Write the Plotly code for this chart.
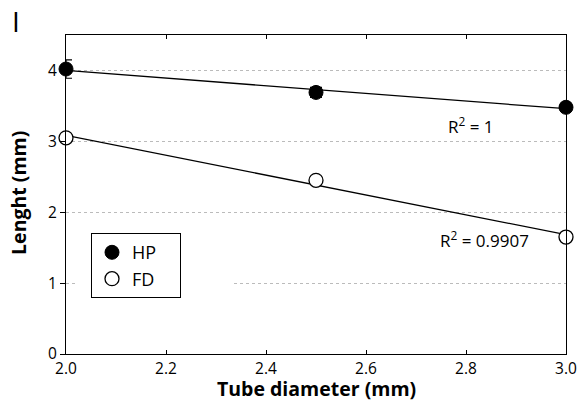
import numpy as np
import plotly.graph_objects as go

# Data
diameter = [2.0, 2.5, 3.0]
hp_length = [4.02, 3.69, 3.48]
hp_err = [0.13, 0.07, 0.05]
fd_length = [3.05, 2.45, 1.65]
fd_err = [0.04, 0.03, 0.03]
series_names = ["HP", "FD"]
r2_labels = ["R<sup>2</sup> = 1", "R<sup>2</sup> = 0.9907"]
panel_label = "I"
x_ticks = [2.0, 2.2, 2.4, 2.6, 2.8, 3.0]
x_tick_text = ["2.0", "2.2", "2.4", "2.6", "2.8", "3.0"]
y_ticks = [0, 1, 2, 3, 4]

FONT = "Open Sans"
PAD = "\u00a0" * 4  # right padding inside legend box

fig = go.Figure()

x_line = np.array([min(diameter), max(diameter)])
for yv in (hp_length, fd_length):
    m, b = np.polyfit(diameter, yv, 1)
    fig.add_trace(go.Scatter(x=x_line, y=m * x_line + b, mode="lines",
                             line=dict(color="black", width=1.3),
                             showlegend=False, hoverinfo="skip"))

fig.add_trace(go.Scatter(
    x=diameter, y=hp_length, mode="markers", name=series_names[0] + PAD,
    marker=dict(symbol="circle", size=14, color="black",
                line=dict(color="black", width=1)),
    error_y=dict(type="data", array=hp_err, color="black", thickness=1.2, width=6),
    cliponaxis=False))
fig.add_trace(go.Scatter(
    x=diameter, y=fd_length, mode="markers", name=series_names[1] + PAD,
    marker=dict(symbol="circle", size=14, color="white",
                line=dict(color="black", width=1.3)),
    error_y=dict(type="data", array=fd_err, color="black", thickness=1.2, width=6),
    cliponaxis=False))

# R^2 annotations
fig.add_annotation(x=2.81, y=3.22, text=r2_labels[0], showarrow=False,
                   font=dict(family=FONT, size=17, color="black"))
fig.add_annotation(x=2.836, y=1.61, text=r2_labels[1], showarrow=False,
                   font=dict(family=FONT, size=17, color="black"))
# Panel label
fig.add_annotation(x=-0.112, y=1.11, xref="paper", yref="paper", text=panel_label,
                   showarrow=False, xanchor="left", yanchor="top",
                   font=dict(family=FONT, size=28, color="black"))
# axis titles
fig.add_annotation(x=0.5, y=-0.108, xref="paper", yref="paper",
                   text="<b>Tube diameter (mm)</b>", showarrow=False,
                   xanchor="center", yanchor="middle",
                   font=dict(family=FONT, size=19.5, color="black"))
fig.add_annotation(x=-0.094, y=0.505, xref="paper", yref="paper",
                   text="<b>Lenght (mm)</b>", showarrow=False, textangle=-90,
                   xanchor="center", yanchor="middle",
                   font=dict(family=FONT, size=19.5, color="black"))

# mask part of y=1 gridline (as in reference)
fig.add_shape(type="rect", x0=2.02, x1=2.332, y0=0.95, y1=1.05, layer="between",
              line=dict(width=0), fillcolor="white")

fig.update_layout(
    width=578, height=402,
    margin=dict(l=66, r=12, t=35, b=48),
    paper_bgcolor="white", plot_bgcolor="white",
    font=dict(family=FONT, size=16, color="black"),
    legend=dict(x=0.05, y=0.379, xanchor="left", yanchor="top",
                bordercolor="black", borderwidth=1, bgcolor="white",
                font=dict(family=FONT, size=18),
                itemwidth=30, tracegroupgap=0),
)
fig.update_xaxes(range=[2.0, 3.0], tickvals=x_ticks, ticktext=x_tick_text,
                 showline=True, linecolor="black", linewidth=1.3, mirror="ticks",
                 ticks="inside", ticklen=4, tickcolor="black", showgrid=False,
                 zeroline=False, automargin=False,
                 tickfont=dict(family=FONT, size=15.5))
fig.update_yaxes(range=[0, 4.5], tickvals=y_ticks,
                 showline=True, linecolor="black", linewidth=1.3, mirror=True,
                 ticks="outside", ticklen=5, tickcolor="black",
                 showgrid=True, gridcolor="#bbbbbb", griddash="dot", gridwidth=1,
                 zeroline=False, automargin=False,
                 tickfont=dict(family=FONT, size=15.5))

fig.write_html("out.html", config={"displayModeBar": False},
               post_script="document.body.style.margin='0px';document.body.style.overflow='hidden';")
